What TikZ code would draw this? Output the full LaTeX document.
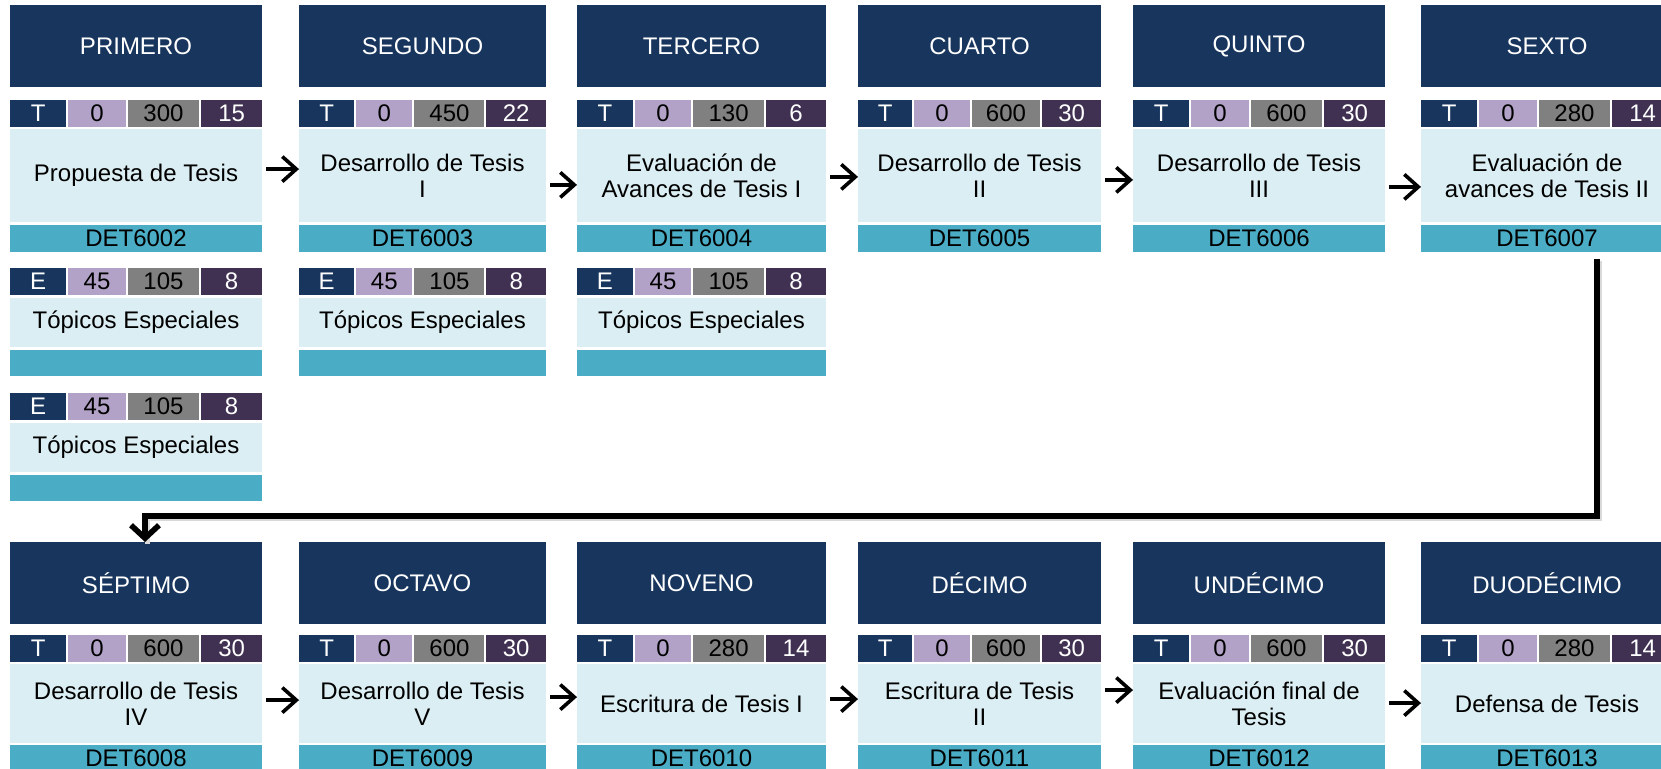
\documentclass[tikz,border=0pt]{standalone}
\usepackage{fontspec}
\setmainfont{Liberation Sans}
\usepackage{xcolor}
\usepackage{tikz}
\usetikzlibrary{arrows.meta}
\usetikzlibrary{positioning}

\definecolor{azulsem}{RGB}{24,54,93}
\definecolor{lila}{RGB}{179,162,199}
\definecolor{gris}{RGB}{128,128,128}
\definecolor{morado}{RGB}{64,49,82}
\definecolor{celeste}{RGB}{219,238,243}
\definecolor{turquesa}{RGB}{75,172,198}

% caja a partir de sus esquinas (en px)
\newcommand{\celda}[7]{%
  \pgfmathsetmacro{\anchocelda}{((#4)-(#2))/2}%
  \pgfmathsetmacro{\altocelda}{((#5)-(#3))/2}%
  \node[#6,minimum width=\anchocelda pt,minimum height=\altocelda pt] (#1) at ({((#2)+(#4))/2},{((#3)+(#5))/2}) {#7};}

% fila tipo / horas / horas / creditos
\newcommand{\fila}[9]{%
  \pgfmathsetmacro{\xa}{#2+0.228*(#3-#2)}%
  \pgfmathsetmacro{\xb}{#2+0.463*(#3-#2)}%
  \pgfmathsetmacro{\xc}{#2+0.755*(#3-#2)}%
  \celda{#1a}{#2}{#4}{\xa-1}{#5}{dato,fill=azulsem,text=white}{#6}%
  \celda{#1b}{\xa+1}{#4}{\xb-1}{#5}{dato,fill=lila}{#7}%
  \celda{#1c}{\xb+1}{#4}{\xc-1}{#5}{dato,fill=gris}{#8}%
  \celda{#1d}{\xc+1}{#4}{#3}{#5}{dato,fill=morado,text=white}{#9}}

\begin{document}
\begin{tikzpicture}[x=0.5pt,y=-0.5pt]
    \tikzset{every node/.style={inner sep=0pt,outer sep=0pt,font=\fontsize{12}{13}\selectfont}}
    \tikzset{cabecera/.style={fill=azulsem,text=white}}
    \tikzset{dato/.style={}}
    \tikzset{curso/.style={fill=celeste,align=center}}
    \tikzset{codigo/.style={fill=turquesa}}
    \tikzset{flecha/.style={line width=1.8pt,-{Straight Barb[length=7pt,width=12.5pt]},shorten <=2pt}}

    \useasboundingbox (0,0) rectangle (1661,769);
    \clip (0,0) rectangle (1661,769);
    \fill[white] (0,0) rectangle (1661,769);

    % semestres 1 a 6
    \foreach \n/\izq/\der/\sem/\hrs/\cred/\curso/\cod in {%
      1/10/262/PRIMERO/300/15/{Propuesta de Tesis}/DET6002,
      2/299/546/SEGUNDO/450/22/{Desarrollo de Tesis\\I}/DET6003,
      3/577/826/TERCERO/130/6/{Evaluación de\\Avances de Tesis I}/DET6004,
      4/858/1101/CUARTO/600/30/{Desarrollo de Tesis\\II}/DET6005,
      5/1133/1385/QUINTO/600/30/{Desarrollo de Tesis\\III}/DET6006,
      6/1421/1673/SEXTO/280/14/{Evaluación de\\avances de Tesis II}/DET6007}{
      \celda{h\n}{\izq}{5}{\der}{87}{cabecera}{\sem}
      \fila{t\n}{\izq}{\der}{100}{127}{T}{0}{\hrs}{\cred}
      \celda{c\n}{\izq}{129}{\der}{222}{curso}{\curso}
      \celda{k\n}{\izq}{225}{\der}{252}{codigo}{\cod}
    }

    % optativas
    \foreach \n/\izq/\der/\ya in {1/10/262/268, 2/299/546/268, 3/577/826/268, 4/10/262/393}{
      \fila{e\n}{\izq}{\der}{\ya}{\ya+27}{E}{45}{105}{8}
      \celda{o\n}{\izq}{\ya+30}{\der}{\ya+79}{curso}{Tópicos Especiales}
      \celda{p\n}{\izq}{\ya+82}{\der}{\ya+108}{codigo}{}
    }

    % semestres 7 a 12
    \foreach \n/\izq/\der/\sem/\hrs/\cred/\curso/\cod in {%
      7/10/262/SÉPTIMO/600/30/{Desarrollo de Tesis\\IV}/DET6008,
      8/299/546/OCTAVO/600/30/{Desarrollo de Tesis\\V}/DET6009,
      9/577/826/NOVENO/280/14/{Escritura de Tesis I}/DET6010,
      10/858/1101/DÉCIMO/600/30/{Escritura de Tesis\\II}/DET6011,
      11/1133/1385/UNDÉCIMO/600/30/{Evaluación final de\\Tesis}/DET6012,
      12/1421/1673/DUODÉCIMO/280/14/{Defensa de Tesis}/DET6013}{
      \celda{h\n}{\izq}{542}{\der}{624}{cabecera}{\sem}
      \fila{t\n}{\izq}{\der}{635}{662}{T}{0}{\hrs}{\cred}
      \celda{c\n}{\izq}{664}{\der}{743}{curso}{\curso}
      \celda{k\n}{\izq}{745}{\der}{772}{codigo}{\cod}
    }

    \foreach \desde/\hasta/\dy in {1/2/3.2pt, 2/3/-4.7pt, 3/4/-0.7pt, 4/5/-2.2pt, 5/6/-5.7pt,
                           7/8/1.7pt, 8/9/3.2pt, 9/10/2.2pt, 10/11/6.7pt, 11/12/0.2pt}
      \draw[flecha] ([yshift=\dy]c\desde.east) -- ([yshift=\dy]c\hasta.west);

    % salto al segundo renglon
    \draw[black!15,line width=2.8pt,transform canvas={shift={(1.2pt,-1.2pt)}}]
      ([xshift=25pt,yshift=-3.5pt]k6.south) |- ([xshift=4.5pt,yshift=13pt]h7.north) -- ([xshift=4.5pt]h7.north);
    \draw[line width=2.8pt,-{Straight Barb[length=6.5pt,width=14pt]}]
      ([xshift=25pt,yshift=-3.5pt]k6.south) |- ([xshift=4.5pt,yshift=13pt]h7.north) -- ([xshift=4.5pt]h7.north);

\end{tikzpicture}
\end{document}
